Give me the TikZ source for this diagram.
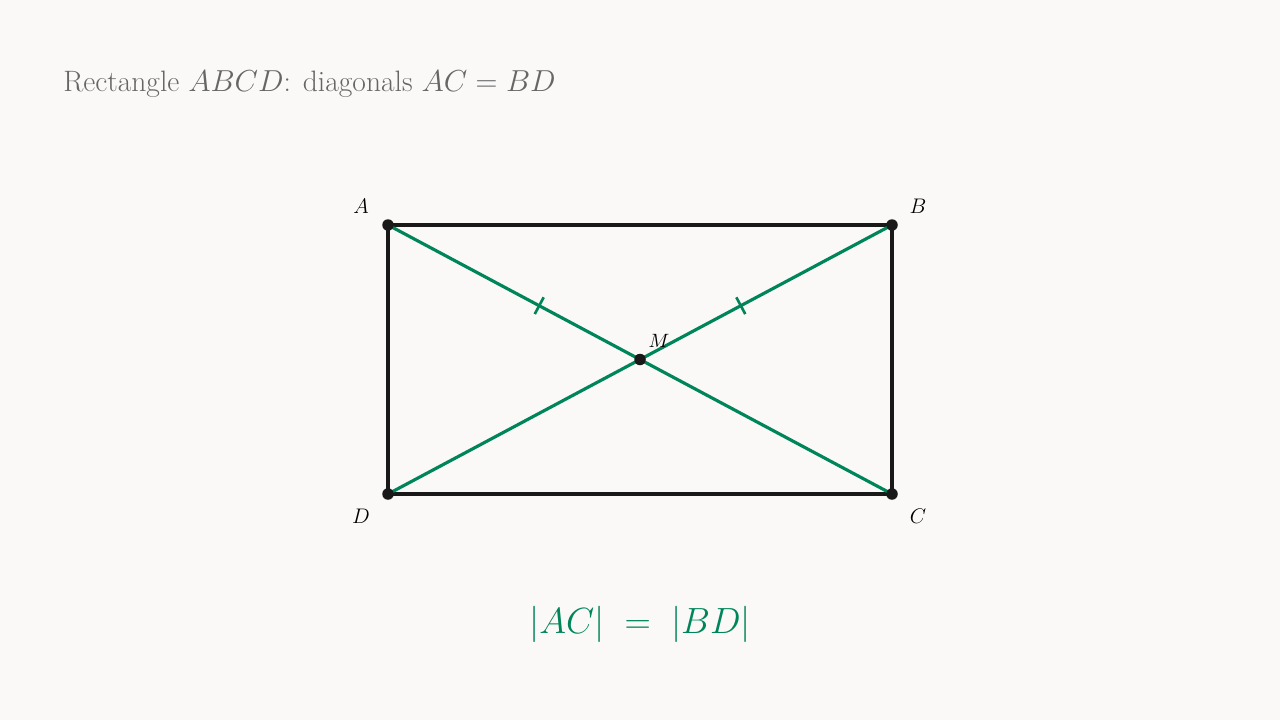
\documentclass[tikz,border=0pt]{standalone}
\usepackage{amsmath}
\usepackage{tikz}
\usetikzlibrary{calc}

\definecolor{paper}{HTML}{FAF9F7}
\definecolor{diaggreen}{HTML}{00855A}
\definecolor{titlegray}{HTML}{666666}

\begin{document}
\begin{tikzpicture}[
    x=0.02cm, y=-0.02cm,
    side/.style={draw=black!90, line width=1.8pt},
    diag/.style={draw=diaggreen, line width=1.8pt},
    tick/.style={draw=diaggreen, line width=1.5pt},
    dot/.style={circle, fill=black!90, inner sep=0pt, minimum size=0.23cm},
    vlabel/.style={font=\fontsize{13}{15}\selectfont, inner sep=0pt},
    mlabel/.style={font=\fontsize{10.5}{12}\selectfont, inner sep=0pt}
]
% Background and frame
\fill[paper] (0,0) rectangle (1280,720);
\useasboundingbox (0,0) rectangle (1280,720);

% Title
\node[anchor=base west, text=titlegray, font=\fontsize{16.8}{20}\selectfont, inner sep=0pt] (title) at (63,91) {Rectangle $ABCD$: diagonals $AC = BD$};

% Corners
\coordinate (A) at (388,225);
\coordinate (B) at (892,225);
\coordinate (C) at (892,494);
\coordinate (D) at (388,494);
\coordinate (M) at (640,359.5);

% Sides
\draw[side] (A) -- (B) -- (C) -- (D) -- cycle;

% Diagonals
\draw[diag] (A) -- (C);
\draw[diag] (B) -- (D);

% Tick marks
\coordinate (tAC) at ($(A)!0.3!(C)$);
\coordinate (tBD) at ($(B)!0.3!(D)$);
\draw[tick] ($(tAC)!0.19cm!90:(C)$) -- ($(tAC)!0.19cm!-90:(C)$);
\draw[tick] ($(tBD)!0.19cm!90:(D)$) -- ($(tBD)!0.19cm!-90:(D)$);

% Points
\foreach \p in {A,B,C,D,M} \node[dot] (dot\p) at (\p) {};

% Labels
\node[vlabel] (lA) at (361,206) {$A$};
\node[vlabel] (lB) at (918,206) {$B$};
\node[vlabel] (lC) at (918,516) {$C$};
\node[vlabel] (lD) at (361,516) {$D$};
\node[mlabel] (lM) at (659,341) {$M$};

% Equality
\node[text=diaggreen, font=\fontsize{19.2}{23}\selectfont, inner sep=0pt] (eq) at (640,624) {$|AC| \;=\; |BD|$};
\end{tikzpicture}
\end{document}
